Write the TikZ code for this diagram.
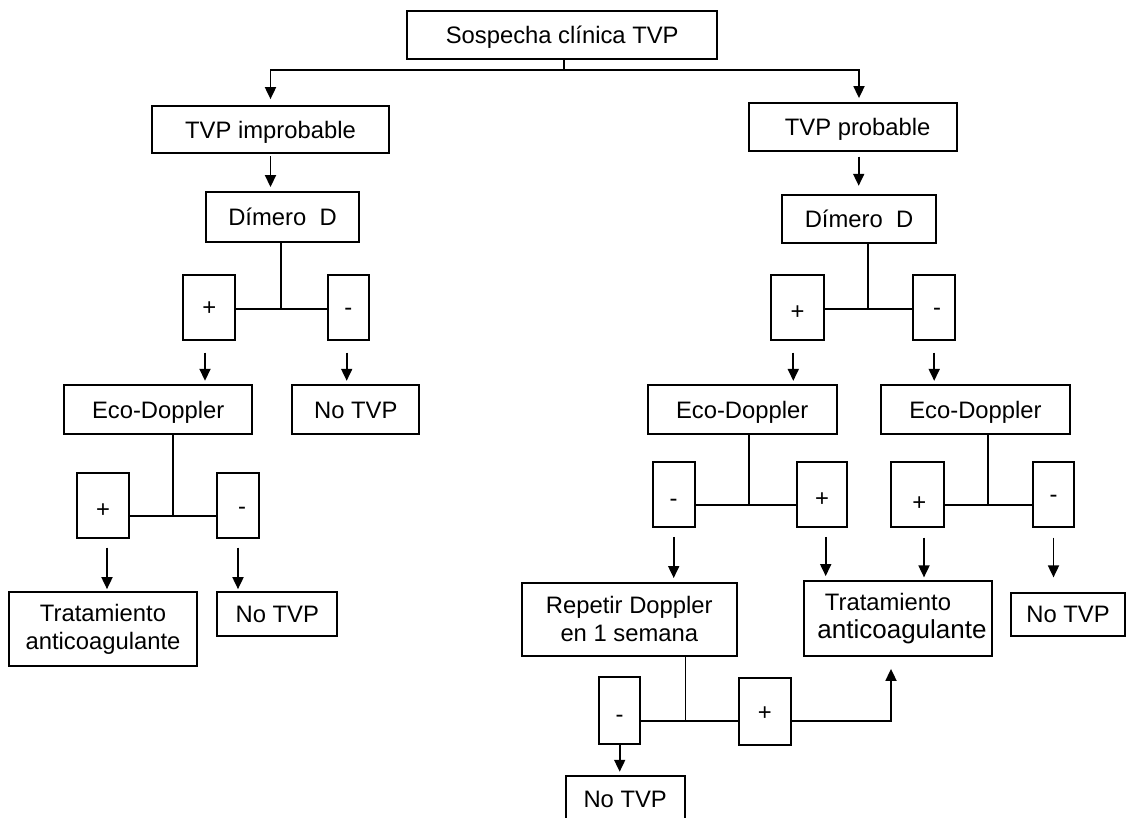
\documentclass[tikz,border=0pt]{standalone}
\usepackage{fontspec}
\setmainfont{Liberation Sans}
\usetikzlibrary{arrows.meta}
\begin{document}
\begin{tikzpicture}[x=1pt,y=-1pt,
  every node/.style={font=\fontsize{23.8}{27.7}\selectfont},
  box/.style={draw, line width=1.8pt, inner sep=0pt, text height=17pt, text depth=0pt},
  mbox/.style={draw, line width=1.8pt, inner sep=0pt, align=center},
  ln/.style={line width=1.8pt},
  arr/.style={line width=1.8pt, -{Triangle[length=12pt,width=11pt]}}
]
\useasboundingbox (0,0) rectangle (1128,818);
\clip (0,0) rectangle (1128,818);

% boxes
\node[box, minimum width=310pt, minimum height=48pt] (S) at (562.2,34.8) {Sospecha clínica TVP};
\node[box, minimum width=237.6pt, minimum height=47.3pt] (Ti) at (270.5,129.7) {TVP improbable};
\node[box, minimum width=208pt, minimum height=48pt] (Tp) at (852.7,127) {\hspace*{10pt}TVP probable};
\node[box, minimum width=153.6pt, minimum height=49.7pt] (Di) at (282.5,216.8) {Dímero\ \ D};
\node[box, minimum width=153.4pt, minimum height=48pt] (Dp) at (859,219.3) {Dímero\ \ D};

\node[box, minimum width=51.7pt, minimum height=65pt] (Pl1) at (209.2,307.5) {+};
\node[box, minimum width=41.3pt, minimum height=65pt] (Ml1) at (348.3,307.5) {-};
\node[box, minimum width=53pt, minimum height=65pt] (Pr1) at (797.5,307.5) {\raisebox{-4pt}{+}};
\node[box, minimum width=41.7pt, minimum height=65pt] (Mr1) at (934.2,307.5) {\hspace*{6pt}-};

\node[box, minimum width=188.3pt, minimum height=49pt] (EL) at (158.2,409.5) {Eco-Doppler};
\node[box, minimum width=127pt, minimum height=49pt] (N1) at (355.8,409.5) {No TVP};
\node[box, minimum width=189pt, minimum height=49.3pt] (EM) at (742.2,409.7) {Eco-Doppler};
\node[box, minimum width=189pt, minimum height=49.3pt] (ER) at (975.5,409.7) {Eco-Doppler};

\node[box, minimum width=52.6pt, minimum height=65.6pt] (Pl2) at (103,505.5) {\raisebox{-3pt}{+}};
\node[box, minimum width=41.4pt, minimum height=65.6pt] (Ml2) at (238,505.5) {\hspace*{8pt}-};
\node[box, minimum width=42pt, minimum height=65pt] (Mm) at (673.7,494.2) {\raisebox{-4pt}{-}};
\node[box, minimum width=50.6pt, minimum height=65pt] (Mp) at (822,494.2) {\raisebox{-4pt}{+}};
\node[box, minimum width=53.3pt, minimum height=65.3pt] (Rp) at (917.3,494.3) {\hspace*{4pt}\raisebox{-8pt}{+}};
\node[box, minimum width=41.6pt, minimum height=65.3pt] (Rm) at (1053.5,494.3) {-};

\node[mbox, minimum width=187.4pt, minimum height=73.7pt] (TL) at (103,629.2) {Tratamiento\\anticoagulante};
\node[box, minimum width=120pt, minimum height=43.7pt] (N2) at (277.3,614.2) {No TVP};
\node[mbox, minimum width=215.3pt, minimum height=73.3pt] (Rep) at (629.3,619.3) {Repetir Doppler\\en 1 semana};
\node[mbox, minimum width=187.4pt, minimum height=75pt] (TR) at (898,618.5) {Tratamiento\hspace*{20pt}\\\hspace*{8pt}{\fontsize{26}{28}\selectfont anticoagulante}};
\node[box, minimum width=114pt, minimum height=43pt] (N3) at (1068,614.2) {No TVP};

\node[box, minimum width=41.3pt, minimum height=66.7pt] (Bm) at (619.7,710.7) {\raisebox{-3pt}{-}};
\node[box, minimum width=51.7pt, minimum height=67pt] (Bp) at (764.8,711.8) {+};
\node[box, minimum width=119pt, minimum height=46.3pt] (N4) at (625.2,798.8) {No TVP};

% junctions
\coordinate (j0) at (564,69.7);
\coordinate (jL1) at (281,309);
\coordinate (jR1) at (868.3,308.7);
\coordinate (jL2) at (172.7,515.7);
\coordinate (jM2) at (749,505);
\coordinate (jR2) at (988.3,504.7);
\coordinate (jB) at (685.5,720.7);
\coordinate (jT) at (891,720.7);

% top split
\draw[ln] (S.south -| j0) -- (j0);
\draw[arr, shorten >=6pt] (j0) -| (Ti.north);
\draw[arr, shorten >=4pt] (j0) -| ([xshift=6.3pt]Tp.north);

\draw[arr, shorten <=2pt, shorten >=4pt] (Ti.south) -- (Ti.south |- Di.north);
\draw[arr, shorten <=4.7pt, shorten >=8.6pt] ([xshift=6pt]Tp.south) -- ([xshift=6pt]Tp.south |- Dp.north);

% Dimero branches
\draw[ln] (Di.south -| jL1) -- (jL1);
\draw[ln] (Pl1.east |- jL1) -- (Ml1.west |- jL1);
\draw[ln] (Dp.south -| jR1) -- (jR1);
\draw[ln] (Pr1.east |- jR1) -- (Mr1.west |- jR1);

\draw[arr, shorten <=11.7pt, shorten >=3.3pt] ([xshift=-4.2pt]Pl1.south) -- ([xshift=-4.2pt]Pl1.south |- EL.north);
\draw[arr, shorten <=11.7pt, shorten >=3.3pt] ([xshift=-1.6pt]Ml1.south) -- ([xshift=-1.6pt]Ml1.south |- N1.north);
\draw[arr, shorten <=11.7pt, shorten >=3.3pt] ([xshift=-4.2pt]Pr1.south) -- ([xshift=-4.2pt]Pr1.south |- EM.north);
\draw[arr, shorten <=11.7pt, shorten >=3.3pt] (Mr1.south) -- (Mr1.south |- ER.north);

% Eco-Doppler branches
\draw[ln] (EL.south -| jL2) -- (jL2);
\draw[ln] (Pl2.east |- jL2) -- (Ml2.west |- jL2);
\draw[ln] (EM.south -| jM2) -- (jM2);
\draw[ln] (Mm.east |- jM2) -- (Mp.west |- jM2);
\draw[ln] (ER.south -| jR2) -- (jR2);
\draw[ln] (Rp.east |- jR2) -- (Rm.west |- jR2);

\draw[arr, shorten <=8.4pt, shorten >=2.3pt] ([xshift=4pt]Pl2.south) -- ([xshift=4pt]Pl2.south |- TL.north);
\draw[arr, shorten <=8.4pt, shorten >=2.3pt] (Ml2.south) -- (Ml2.south |- N2.north);
\draw[arr, shorten <=9.3pt, shorten >=3.7pt] (Mm.south) -- (Mm.south |- Rep.north);
\draw[arr, shorten <=9.3pt, shorten >=4pt] ([xshift=3.7pt]Mp.south) -- ([xshift=3.7pt]Mp.south |- TR.north);
\draw[arr, shorten <=9.7pt, shorten >=2.7pt] ([xshift=6.7pt]Rp.south) -- ([xshift=6.7pt]Rp.south |- TR.north);
\draw[arr, shorten <=9.7pt, shorten >=14.4pt] (Rm.south) -- (Rm.south |- N3.north);

% repeat Doppler branches
\draw[ln] (Rep.south -| jB) -- (jB);
\draw[ln] (Bm.east |- jB) -- (Bp.west |- jB);
\draw[arr, shorten >=12pt] (Bp.east |- jB) -| (TR.south -| jT);
\draw[arr, shorten >=3pt] (Bm.south) -- (Bm.south |- N4.north);
\end{tikzpicture}
\end{document}
